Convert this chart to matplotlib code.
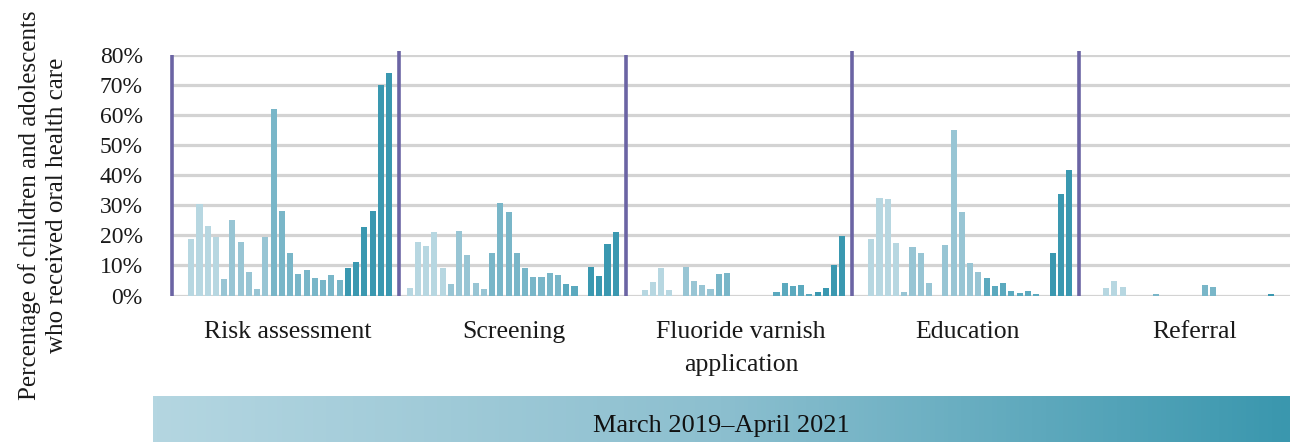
import matplotlib
matplotlib.use("Agg")
import matplotlib.pyplot as plt
import numpy as np
from matplotlib.colors import LinearSegmentedColormap

# ---------------- data ----------------
months = ["2019-03", "2019-04", "2019-05", "2019-06", "2019-07", "2019-08", "2019-09",
          "2019-10", "2019-11", "2019-12", "2020-01", "2020-02", "2020-03", "2020-04",
          "2020-05", "2020-06", "2020-07", "2020-08", "2020-09", "2020-10", "2020-11",
          "2020-12", "2021-01", "2021-02", "2021-03", "2021-04"]
categories = ["Risk assessment", "Screening", "Fluoride varnish\napplication",
              "Education", "Referral"]
risk_assessment = [0, 18.7, 30.6, 23.0, 19.6, 5.6, 25.0, 17.9, 7.9, 2.3, 19.6, 62.0, 28.2,
                   14.0, 7.3, 8.6, 5.9, 5.3, 6.9, 5.3, 9.3, 11.3, 22.7, 28.2, 70.0, 74.0]
screening = [2.5, 17.9, 16.6, 21.2, 9.3, 3.8, 21.6, 13.6, 4.2, 2.2, 14.0, 30.8, 27.8,
             14.0, 9.3, 6.3, 6.3, 7.5, 6.9, 3.8, 3.2, 0, 9.6, 6.6, 17.2, 21.0]
fluoride_varnish = [0, 1.8, 4.5, 9.3, 1.8, 0, 9.6, 4.8, 3.5, 2.2, 7.3, 7.6, 0,
                    0, 0, 0, 0, 1.2, 4.2, 3.2, 3.5, 0.5, 1.2, 2.5, 10.2, 19.7]
education = [0, 18.9, 32.3, 32.0, 17.6, 1.2, 16.0, 14.2, 4.2, 0, 16.9, 55.0, 27.8,
             10.9, 7.9, 5.9, 3.2, 4.2, 1.5, 0.8, 1.5, 0.5, 0, 14.0, 33.6, 41.7]
referral = [0, 0, 2.5, 4.8, 2.8, 0, 0, 0, 0.5, 0, 0, 0, 0,
            0, 3.5, 2.8, 0, 0, 0, 0, 0, 0, 0.4, 0, 0, 0]
series = [risk_assessment, screening, fluoride_varnish, education, referral]
yticks = [0, 10, 20, 30, 40, 50, 60, 70, 80]
period_label = "March 2019\u2013April 2021"
ylabel = "Percentage of children and adolescents\nwho received oral health care"

# ---------------- style ----------------
shades = ["#b7d7e1", "#98c5d4", "#79b6c8", "#5ba9be", "#3a98b0"]
# per category: (first month index, shade index)
shade_breaks = [
    [(0, 0), (5, 1), (11, 2), (20, 4)],
    [(0, 0), (5, 1), (10, 2), (19, 3), (22, 4)],
    [(0, 0), (5, 1), (10, 2), (17, 3), (22, 4)],
    [(0, 0), (5, 1), (15, 3), (23, 4)],
    [(0, 0), (5, 2), (22, 4)],
]
serif = ["Liberation Serif", "DejaVu Serif"]
plt.rcParams["font.family"] = serif

W, H = 1290, 442
fig = plt.figure(figsize=(W / 100, H / 100), dpi=100)
ax_left_px, ax_bottom_px, ax_top_px = 170.6, 295.5, 55.0
ax = fig.add_axes([ax_left_px / W, (H - ax_bottom_px) / H, 1 - ax_left_px / W,
                   (ax_bottom_px - ax_top_px) / H])

P = 27.5          # slots per category block
bar_w = 0.74

def shade_for(g, m):
    idx = 0
    for start, s in shade_breaks[g]:
        if m >= start:
            idx = s
    return shades[idx]

for g, vals in enumerate(series):
    xs = g * P + np.arange(len(months))
    cols = [shade_for(g, m) for m in range(len(months))]
    ax.bar(xs, vals, width=bar_w, color=cols, zorder=3, linewidth=0)

ax.set_xlim(-1.5, 134.3)
ax.set_ylim(0, 80)
ax.set_yticks(yticks)
ax.set_yticklabels([f"{t}%" for t in yticks], fontsize=17, color="#1a1a1a")
ax.tick_params(axis="y", length=0, pad=20)
ax.set_xticks([])
for sp in ax.spines.values():
    sp.set_visible(False)
ax.yaxis.grid(True, color="#d3d3d3", linewidth=2.3, zorder=0)
ax.set_axisbelow(True)

# category separators
sep_tops = [80.0, 81.3, 80.0, 81.3, 81.3]
for g in range(5):
    ax.plot([g * P - 1.3, g * P - 1.3], [0, sep_tops[g]], color="#6b64a4",
            linewidth=2.6, zorder=4, clip_on=False, solid_capstyle="butt")

# category labels
for g, name in enumerate(categories):
    ax.text(g * P + 12.7, -8.6, name, ha="center", va="top", fontsize=18.5,
            color="#1a1a1a", linespacing=1.6, transform=ax.transData, clip_on=False)

# y label
fig.text(43 / W, (H - 205) / H, ylabel, rotation=90, ha="center", va="center",
         multialignment="center", fontsize=18, linespacing=1.3, color="#1a1a1a")

# gradient band with period label
band = fig.add_axes([153 / W, 0, 1 - 153 / W, 46 / H])
cmap = LinearSegmentedColormap.from_list("band", ["#b4d6e1", "#8cbfcf", "#3a97ae"])
band.imshow(np.linspace(0, 1, 256)[None, :], aspect="auto", cmap=cmap,
            extent=[0, 1, 0, 1])
band.set_axis_off()
band.text(0.5, 0.34, period_label, ha="center", va="center", fontsize=19,
          color="#111111", transform=band.transAxes)

fig.savefig("out.png", dpi=100)
